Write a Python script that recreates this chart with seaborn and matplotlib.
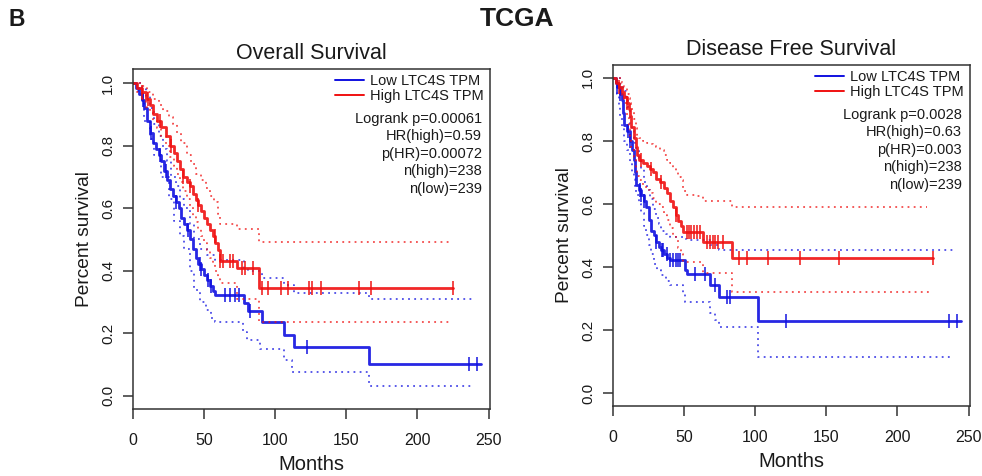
import matplotlib
matplotlib.use('Agg')
import matplotlib.pyplot as plt
from matplotlib.lines import Line2D
import numpy as np
import seaborn as sns

# %% data (months, survival fraction)
# Overall survival
os_low_t = [0, 2, 4, 6, 8, 10, 12, 14, 16, 18, 20, 22, 24, 26, 28, 30, 32, 34, 36, 38, 40, 42, 44, 46, 48, 50,
            52, 54, 56, 58, 78, 81, 90.5, 106, 113, 166, 245]
os_low_s = [1.0, 0.985, 0.965, 0.945, 0.92, 0.88, 0.84, 0.81, 0.79, 0.77, 0.75, 0.72, 0.69, 0.66, 0.64, 0.62, 0.60,
            0.57, 0.55, 0.53, 0.50, 0.47, 0.44, 0.42, 0.405, 0.385, 0.37, 0.35, 0.335, 0.322, 0.298, 0.27, 0.235,
            0.195, 0.155, 0.102, 0.102]
os_low_lo_t = [0, 3, 6, 8, 12, 15, 20, 25, 29, 33, 36, 40, 43, 47, 51, 55, 58, 77, 80, 89, 106, 112, 166, 240]
os_low_lo = [1.0, 0.975, 0.94, 0.88, 0.82, 0.77, 0.70, 0.63, 0.56, 0.51, 0.47, 0.40, 0.34, 0.30, 0.275, 0.25, 0.237,
             0.205, 0.18, 0.15, 0.115, 0.075, 0.033, 0.033]
os_low_hi_t = [0, 4, 6, 9, 12, 15, 18, 21, 24, 27, 30, 33, 36, 40, 43, 47, 52, 58, 78, 81, 90.5, 106, 113, 166, 240]
os_low_hi = [1.0, 1.0, 0.98, 0.96, 0.92, 0.87, 0.83, 0.79, 0.75, 0.70, 0.67, 0.63, 0.60, 0.55, 0.50, 0.47, 0.45,
             0.435, 0.41, 0.40, 0.376, 0.355, 0.328, 0.309, 0.309]
os_low_cens = [7, 13, 19, 23, 30, 39, 47, 48, 53, 55, 65, 68, 71.5, 74.5, 82, 122, 236, 242]

os_high_t = [0, 3, 6, 9, 12, 14, 17, 20, 23, 26, 29, 31, 33, 35, 38, 40, 42, 44, 46, 48, 50, 52, 54, 56, 58, 60,
             61, 73, 88.5, 225]
os_high_s = [1.0, 0.985, 0.97, 0.95, 0.93, 0.90, 0.88, 0.86, 0.83, 0.80, 0.775, 0.75, 0.725, 0.70, 0.685, 0.67,
             0.645, 0.625, 0.61, 0.59, 0.57, 0.55, 0.53, 0.51, 0.49, 0.465, 0.43, 0.408, 0.344, 0.344]
os_high_hi_t = [0, 6, 10, 14, 18, 21, 25, 28, 31, 34, 38, 41, 44, 48, 51, 54, 57, 60, 61, 73, 88.5, 222]
os_high_hi = [1.0, 0.99, 0.97, 0.95, 0.93, 0.91, 0.89, 0.87, 0.84, 0.81, 0.77, 0.74, 0.71, 0.69, 0.665, 0.64, 0.62,
              0.58, 0.55, 0.535, 0.493, 0.493]
os_high_lo_t = [0, 3, 6, 9, 12, 14, 17, 20, 23, 26, 29, 31, 33, 35, 38, 40, 42, 44, 46, 48, 50, 52, 54, 56, 58,
                60, 61, 73, 88.5, 224]
os_high_lo = [1.0, 0.97, 0.95, 0.925, 0.905, 0.88, 0.855, 0.83, 0.80, 0.765, 0.735, 0.71, 0.685, 0.655, 0.63,
              0.605, 0.575, 0.555, 0.535, 0.51, 0.49, 0.465, 0.44, 0.42, 0.40, 0.38, 0.36, 0.31, 0.237, 0.237]
os_high_cens = [6, 10.7, 19, 27, 35, 40, 46, 57.6, 61.5, 63.4, 68, 70.4, 76.3, 78.7, 84.5, 90.4, 95, 104.4, 109,
                123.8, 126.2, 132.5, 159, 167, 225]

# Disease free survival
dfs_low_t = [0, 2, 3, 5, 6, 7, 8, 10, 12, 13.5, 14.5, 15.5, 16.5, 18, 20, 22, 23.5, 25, 27, 28.5, 30, 32, 34, 36,
             38, 40, 50.5, 52, 68.3, 74.2, 101.6, 245]
dfs_low_s = [1.0, 0.985, 0.97, 0.95, 0.93, 0.89, 0.85, 0.83, 0.80, 0.77, 0.74, 0.70, 0.66, 0.645, 0.63, 0.61, 0.59,
             0.55, 0.515, 0.50, 0.478, 0.465, 0.455, 0.44, 0.43, 0.422, 0.39, 0.378, 0.343, 0.306, 0.229, 0.229]
dfs_low_lo_t = [0, 2, 3, 4, 5, 6.5, 8, 10, 12, 13.5, 14.5, 15.5, 16.5, 18, 20, 21.5, 23, 25, 27, 29, 31, 34, 37,
                40, 49.5, 50.5, 68.3, 72, 74.2, 101.6, 239]
dfs_low_lo = [1.0, 0.975, 0.95, 0.91, 0.88, 0.84, 0.80, 0.77, 0.73, 0.70, 0.68, 0.65, 0.63, 0.60, 0.57, 0.53, 0.50,
              0.47, 0.44, 0.41, 0.39, 0.375, 0.355, 0.343, 0.316, 0.29, 0.253, 0.232, 0.209, 0.115, 0.115]
dfs_low_hi_t = [0, 3, 5, 7, 9, 10.5, 12, 13.5, 14.5, 15.5, 16.5, 18, 20, 22, 24, 26, 28, 30, 32, 34, 37, 40, 50.5,
                52, 68.3, 74.2, 240]
dfs_low_hi = [1.0, 1.0, 0.98, 0.96, 0.94, 0.90, 0.855, 0.83, 0.81, 0.79, 0.775, 0.745, 0.71, 0.67, 0.645, 0.615,
              0.585, 0.555, 0.535, 0.515, 0.505, 0.495, 0.49, 0.486, 0.47, 0.454, 0.454]
dfs_low_cens = [3, 5, 10.8, 12, 19, 20, 22, 30, 34.3, 35.4, 37.8, 40.1, 42.5, 44, 46, 47.2, 57.5, 65, 72, 80, 82.2,
                121.6, 236, 242]

dfs_high_t = [0, 2, 4, 6, 8, 10, 11, 12, 13, 14.5, 16, 17, 18, 21, 24, 26, 28, 30, 33, 36, 38, 40, 42, 44, 46, 48,
              49.5, 63.6, 84, 225]
dfs_high_s = [1.0, 0.985, 0.97, 0.955, 0.94, 0.92, 0.90, 0.88, 0.845, 0.81, 0.78, 0.755, 0.74, 0.73, 0.72, 0.71,
              0.70, 0.68, 0.67, 0.65, 0.635, 0.61, 0.59, 0.565, 0.545, 0.53, 0.51, 0.48, 0.43, 0.43]
dfs_high_hi_t = [0, 4, 6, 8, 10, 11, 12, 13, 14.5, 16, 17, 18, 21, 24, 26, 28, 30, 33, 36, 38, 40, 42, 44, 46, 48,
                 49.5, 52, 58, 63.6, 84, 221]
dfs_high_hi = [1.0, 1.0, 0.985, 0.97, 0.95, 0.935, 0.92, 0.90, 0.87, 0.84, 0.82, 0.81, 0.80, 0.795, 0.79, 0.785,
               0.78, 0.77, 0.755, 0.74, 0.73, 0.715, 0.70, 0.685, 0.675, 0.64, 0.63, 0.625, 0.61, 0.592, 0.592]
dfs_high_lo_t = [0, 2, 4, 6, 8, 10, 11, 12, 13, 14.5, 16, 17, 18, 21, 24, 26, 28, 30, 33, 36, 38, 40, 42, 44, 46,
                 48, 49.5, 63.6, 84, 222]
dfs_high_lo = [1.0, 0.98, 0.965, 0.94, 0.92, 0.88, 0.85, 0.81, 0.78, 0.75, 0.71, 0.69, 0.675, 0.655, 0.645, 0.635,
               0.62, 0.60, 0.59, 0.565, 0.55, 0.525, 0.50, 0.485, 0.46, 0.44, 0.415, 0.38, 0.32, 0.32]
dfs_high_cens = [4, 10, 20, 27, 34, 44, 51.9, 53.5, 55, 57, 59, 61, 66, 68.5, 70, 72, 74, 77.5, 88.3, 94.1, 108.7,
                 131.7, 158.7, 225]

group_labels = ['Low LTC4S TPM', 'High LTC4S TPM']
os_stats = ['Logrank p=0.00061', 'HR(high)=0.59', 'p(HR)=0.00072', 'n(high)=238', 'n(low)=239']
dfs_stats = ['Logrank p=0.0028', 'HR(high)=0.63', 'p(HR)=0.003', 'n(high)=238', 'n(low)=239']
x_ticks = [0, 50, 100, 150, 200, 250]
y_ticks = [0.0, 0.2, 0.4, 0.6, 0.8, 1.0]

# %% style
sns.set_theme(style='white')
plt.rcParams['font.family'] = ['Liberation Sans', 'DejaVu Sans']
ink = '#1a1a1a'
BLUE = '#1010e0'
RED = '#f01010'

W, H = 982, 476
fig = plt.figure(figsize=(W / 100, H / 100), dpi=100)


def px_axes(left, top, right, bottom):
    return fig.add_axes([left / W, 1 - bottom / H, (right - left) / W, (bottom - top) / H])


def step_at(t, s, x):
    idx = np.searchsorted(t, x, side='right') - 1
    return np.asarray(s)[idx]


def km_panel(ax, groups, title, stats, ylim):
    for (t, s, lo_t, lo, hi_t, hi, cens), color in groups:
        for bt, bv in [(lo_t, lo), (hi_t, hi)]:
            sns.lineplot(x=bt, y=bv, ax=ax, color=color, drawstyle='steps-post', estimator=None, sort=False,
                         lw=1.3, alpha=0.75, dashes=False, linestyle=(0, (1, 2.4)))
        sns.lineplot(x=t, y=s, ax=ax, color=color, drawstyle='steps-post', estimator=None, sort=False,
                     lw=2.0, alpha=0.9)
        ax.plot(cens, step_at(t, s, cens), ls='none', marker='|', ms=10, mew=1.2, color=color, alpha=0.9)

    ax.set_xlim(0, 251)
    ax.set_ylim(*ylim)
    ax.set_xticks(x_ticks)
    ax.set_yticks(y_ticks)
    ax.set_xticklabels([str(v) for v in x_ticks], fontsize=11.5, color=ink)
    ax.set_yticklabels([f'{v:.1f}' for v in y_ticks], fontsize=11, color=ink, rotation=90, va='center')
    ax.tick_params(axis='both', direction='out', length=7, width=1.1, color='#333333', left=True, bottom=True)
    ax.tick_params(axis='x', pad=10)
    ax.tick_params(axis='y', pad=6)
    for sp in ax.spines.values():
        sp.set_color('#333333')
        sp.set_linewidth(1.1)
    ax.set_xlabel('Months', fontsize=14.5, color=ink, labelpad=5)
    ax.set_ylabel('Percent survival', fontsize=13.8, color=ink, labelpad=6)
    ax.set_title(title, fontsize=15.5, color=ink, pad=7)

    handles = [Line2D([], [], color=BLUE, lw=1.4), Line2D([], [], color=RED, lw=1.4)]
    ax.legend(handles, group_labels, loc='upper right', bbox_to_anchor=(0.983, 0.985), frameon=False,
              fontsize=10.5, handlelength=1.95, handletextpad=0.45, labelspacing=0.05, borderpad=0,
              borderaxespad=0, labelcolor=ink)
    box_h = ax.bbox.height
    for i, line in enumerate(stats):
        ax.text(0.978, 1 - (49.5 + 17.6 * i) / box_h, line, transform=ax.transAxes, ha='right', va='center',
                fontsize=10.5, color=ink)


ax_os = px_axes(133, 69, 490, 409)
km_panel(ax_os,
         [((os_low_t, os_low_s, os_low_lo_t, os_low_lo, os_low_hi_t, os_low_hi, os_low_cens), BLUE),
          ((os_high_t, os_high_s, os_high_lo_t, os_high_lo, os_high_hi_t, os_high_hi, os_high_cens), RED)],
         'Overall Survival', os_stats, (-0.042, 1.045))

ax_dfs = px_axes(613, 65, 970, 406)
km_panel(ax_dfs,
         [((dfs_low_t, dfs_low_s, dfs_low_lo_t, dfs_low_lo, dfs_low_hi_t, dfs_low_hi, dfs_low_cens), BLUE),
          ((dfs_high_t, dfs_high_s, dfs_high_lo_t, dfs_high_lo, dfs_high_hi_t, dfs_high_hi, dfs_high_cens), RED)],
         'Disease Free Survival', dfs_stats, (-0.041, 1.041))

fig.text(517 / W, 1 - 19 / H, 'TCGA', fontsize=19, fontweight='bold', color=ink, ha='center', va='center')
fig.text(8 / W, 1 - 19 / H, 'B', fontsize=16.5, fontweight='bold', color=ink, ha='left', va='center')

fig.savefig('out.png', dpi=100)
